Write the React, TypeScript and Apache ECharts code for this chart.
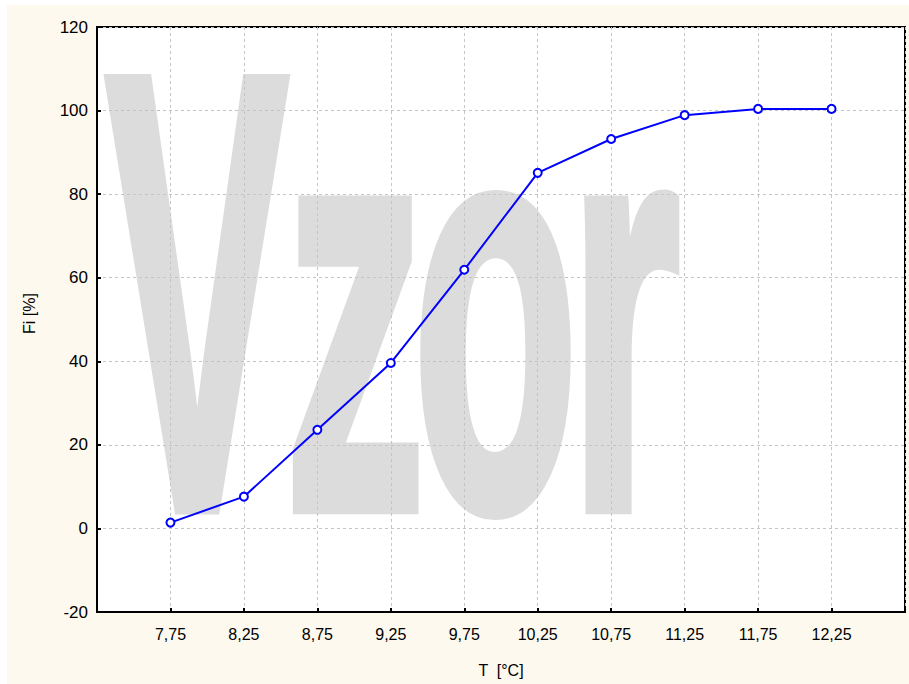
import React, { useEffect, useRef } from "react";
import * as echarts from "echarts";

const xValues = [7.75, 8.25, 8.75, 9.25, 9.75, 10.25, 10.75, 11.25, 11.75, 12.25];
const xLabels = ["7,75", "8,25", "8,75", "9,25", "9,75", "10,25", "10,75", "11,25", "11,75", "12,25"];
const fiValues = [1.4, 7.6, 23.6, 39.6, 61.9, 85.1, 93.2, 98.9, 100.4, 100.4];
const watermarkLetters = ["V", "z", "o", "r"];

export default function App() {
  const ref = useRef<HTMLDivElement>(null);
  useEffect(() => {
    if (!ref.current) return;
    const chart = echarts.init(ref.current, undefined, { renderer: "svg" });
    const font = "Liberation Sans, Arial, sans-serif";
    const letterX = [106, 285, 413, 569];
    const letterScale = [0.44, 0.486, 0.468, 0.495];
    const letterSize = [620, 577, 577, 577];
    const letterY = [292, 307, 307, 307];
    chart.setOption({
      animation: false,
      backgroundColor: "transparent",
      grid: {
        left: 97,
        top: 27,
        right: 4,
        bottom: 72,
        show: true,
        backgroundColor: "#ffffff",
        borderColor: "#000000",
        borderWidth: 2,
        z: 0,
      },
      graphic: watermarkLetters.map((ch, i) => ({
        type: "text",
        z: 1,
        silent: true,
        x: letterX[i],
        y: letterY[i],
        scaleX: letterScale[i],
        style: {
          text: ch,
          font: `bold ${letterSize[i]}px ${font}`,
          fill: "#dcdcdc",
          stroke: "#dcdcdc",
          lineWidth: 14,
          textAlign: "left",
          textVerticalAlign: "middle",
        },
      })),
      xAxis: {
        type: "value",
        min: 7.25,
        max: 12.75,
        interval: 0.5,
        z: 2,
        name: "T  [°C]",
        nameLocation: "middle",
        nameGap: 50,
        nameTextStyle: { fontFamily: font, fontSize: 16, color: "#000" },
        axisLine: { show: true, onZero: false, lineStyle: { color: "#000", width: 2 } },
        axisTick: { show: true, inside: true, length: 4, lineStyle: { color: "#000", width: 2 } },
        axisLabel: {
          fontFamily: font,
          fontSize: 16,
          color: "#000",
          margin: 14,
          formatter: (v: number) => {
            const i = xValues.findIndex((x) => Math.abs(x - v) < 1e-6);
            return i >= 0 ? xLabels[i] : "";
          },
        },
        splitLine: { show: true, lineStyle: { color: "#c4c4c4", type: [3, 3], width: 1 } },
      },
      yAxis: {
        type: "value",
        min: -20,
        max: 120,
        interval: 20,
        z: 2,
        name: "Fi [%]",
        nameLocation: "middle",
        nameGap: 60,
        nameRotate: 90,
        nameTextStyle: { fontFamily: font, fontSize: 16, color: "#000", padding: [0, 0, 0, 12] },
        axisLine: { show: true, onZero: false, lineStyle: { color: "#000", width: 2 } },
        axisTick: { show: true, inside: true, length: 4, lineStyle: { color: "#000", width: 2 } },
        axisLabel: { fontFamily: font, fontSize: 17, color: "#000", margin: 9 },
        splitLine: { show: true, lineStyle: { color: "#c4c4c4", type: [3, 3], width: 1 } },
      },
      series: [
        {
          type: "line",
          z: 3,
          data: xValues.map((x, i) => [x, fiValues[i]]),
          symbol: "circle",
          symbolSize: 8,
          showAllSymbol: true,
          lineStyle: { color: "#0000ff", width: 2 },
          itemStyle: { color: "#ffffff", borderColor: "#0000ff", borderWidth: 2 },
        },
      ],
    });
    return () => chart.dispose();
  }, []);
  return (
    <div style={{ position: "absolute", left: 0, top: 0, width: 909, height: 684, background: "#ffffff" }}>
      <div
        style={{ position: "absolute", left: 7, top: 5, width: 902, height: 679, background: "#fdf9ee" }}
      />
      <div ref={ref} style={{ position: "absolute", left: 0, top: 0, width: 909, height: 684 }} />
    </div>
  );
}
